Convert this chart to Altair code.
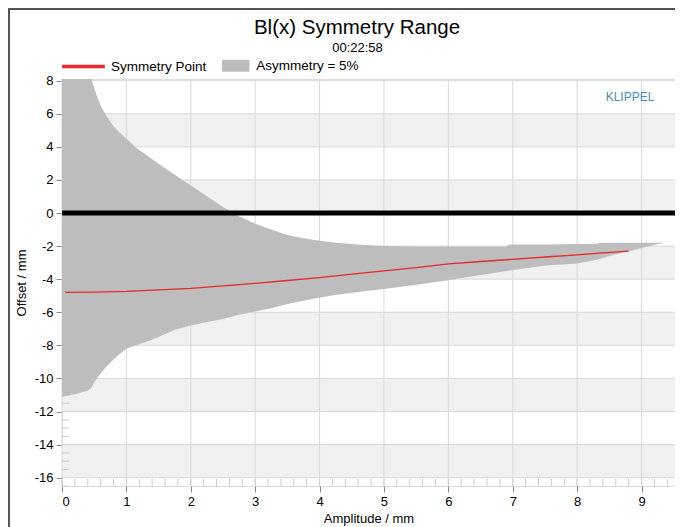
import altair as alt
import pandas as pd

# ---- data ----
amp = [0.0, 0.2, 0.4, 0.45, 0.5, 0.55, 0.6, 0.7, 0.8, 0.9, 1.0, 1.15, 1.3, 1.5, 1.75,
       2.0, 2.25, 2.5, 2.75, 3.0, 3.25, 3.5, 3.75, 4.0, 4.25, 4.5, 4.75, 5.0, 5.5,
       6.0, 6.5, 6.9, 6.95, 7.5, 8.0, 8.3, 8.35, 8.5, 8.75, 9.0, 9.33]
upper = [16.0, 12.0, 9.0, 8.2, 7.55, 6.98, 6.48, 5.8, 5.25, 4.83, 4.5, 3.94, 3.53, 2.98, 2.32,
         1.67, 1.01, 0.36, -0.19, -0.65, -1.0, -1.33, -1.52, -1.68, -1.8, -1.88, -1.95, -2.0, -2.02,
         -2.02, -2.02, -2.02, -1.9, -1.9, -1.88, -1.88, -1.8, -1.8, -1.8, -1.8, -1.8]
lower = [-11.1, -10.95, -10.75, -10.6, -10.25, -9.95, -9.7, -9.25, -8.85, -8.5, -8.2, -8.0, -7.8, -7.5, -7.05,
         -6.8, -6.58, -6.4, -6.15, -5.95, -5.75, -5.5, -5.3, -5.1, -4.95, -4.82, -4.7, -4.6, -4.33,
         -4.06, -3.75, -3.5, -3.47, -3.18, -3.05, -2.82, -2.78, -2.6, -2.36, -2.12, -1.82]

sym_amp = [0.05, 0.5, 1.0, 1.5, 2.0, 2.5, 3.0, 3.5, 4.0, 4.5, 5.0, 5.5, 6.0, 6.5, 7.0, 7.5, 8.0, 8.35, 8.8]
sym_off = [-4.8, -4.78, -4.74, -4.65, -4.55, -4.4, -4.25, -4.08, -3.9, -3.7, -3.5, -3.3, -3.07, -2.93,
           -2.8, -2.66, -2.53, -2.42, -2.3]

x_ticks = [0, 1, 2, 3, 4, 5, 6, 7, 8, 9]
y_ticks = [-16, -14, -12, -10, -8, -6, -4, -2, 0, 2, 4, 6, 8]
band_tops = [6, 2, -2, -6, -10, -14]
x_minor = [round(i * 0.2, 1) for i in range(0, 48)]
y_minor = [v / 2 for v in range(-33, 16) if v % 4 != 0]

title_text = "Bl(x) Symmetry Range"
subtitle_text = "00:22:58"
sym_label = "Symmetry Point"
asym_label = "Asymmetry = 5%"
brand_text = "KLIPPEL"

# ---- styling ----
W, H = 613, 407
FONT = "Liberation Sans"
GRID = "#d9d9d9"
AREA = "#bcbdbc"
RED = "#e8282a"

xs = alt.Scale(domain=[0, 9.52], nice=False, zero=False)
ys = alt.Scale(domain=[-16.5, 8.1], nice=False, zero=False)

x_axis = alt.Axis(values=x_ticks, grid=False, domain=False, tickSize=6, tickColor="#888888",
                  labelFontSize=13, labelFont=FONT, labelColor="black", labelPadding=3,
                  labelOverlap=False,
                  title="Amplitude / mm", titleFont=FONT, titleFontSize=13, titleFontWeight="normal",
                  titleColor="black", titlePadding=4)
y_axis = alt.Axis(values=y_ticks, grid=False, domain=False, tickSize=6, tickColor="#888888",
                  labelFontSize=13, labelFont=FONT, labelColor="black", labelPadding=3,
                  labelOverlap=False, labelExpr="'' + datum.value",
                  title="Offset / mm", titleFont=FONT, titleFontSize=13, titleFontWeight="normal",
                  titleColor="black", titlePadding=6)

area_df = pd.DataFrame({"amp": amp, "upper": upper, "lower": lower, "series": asym_label})
line_df = pd.DataFrame({"amp": sym_amp, "off": sym_off, "series": sym_label})
band_df = pd.DataFrame({"top": band_tops, "bottom": [t - 2 for t in band_tops]})
vgrid_df = pd.DataFrame({"x": x_ticks})
hgrid_df = pd.DataFrame({"y": y_ticks})
xminor_df = pd.DataFrame({"x": x_minor})
yminor_df = pd.DataFrame({"y": y_minor})
one_df = pd.DataFrame({"k": [0]})

frame = alt.Chart(one_df).mark_rect(fill="white", fillOpacity=0, stroke="#555555", strokeWidth=2).encode(
    x=alt.value(-53), x2=alt.value(720), y=alt.value(-70), y2=alt.value(520))

title_mark = alt.Chart(one_df).mark_text(text=title_text, font=FONT, fontSize=20.5, color="black",
                                         align="center", baseline="alphabetic").encode(
    x=alt.value(295), y=alt.value(-45))
subtitle_mark = alt.Chart(one_df).mark_text(text=subtitle_text, font=FONT, fontSize=13, color="black",
                                            align="center", baseline="alphabetic").encode(
    x=alt.value(295.5), y=alt.value(-27.3))

bands = alt.Chart(band_df).mark_rect(color="#f0f0f0").encode(
    x=alt.value(0), x2=alt.value(W),
    y=alt.Y("top:Q", scale=ys, axis=y_axis), y2="bottom:Q")

vgrid = alt.Chart(vgrid_df).mark_rule(color=GRID, strokeWidth=1).encode(
    x=alt.X("x:Q", scale=xs, axis=x_axis))
hgrid = alt.Chart(hgrid_df).mark_rule(color=GRID, strokeWidth=1).encode(
    y=alt.Y("y:Q", scale=ys, axis=y_axis))

xminor = alt.Chart(xminor_df).mark_rule(color="#cccccc", strokeWidth=1).encode(
    x=alt.X("x:Q", scale=xs, axis=x_axis), y=alt.value(H), y2=alt.value(H - 7))
yminor = alt.Chart(yminor_df).mark_rule(color="#cccccc", strokeWidth=1).encode(
    y=alt.Y("y:Q", scale=ys, axis=y_axis), x=alt.value(0), x2=alt.value(7))

area = alt.Chart(area_df).mark_area(clip=True, opacity=1).encode(
    x=alt.X("amp:Q", scale=xs, axis=x_axis),
    y=alt.Y("upper:Q", scale=ys, axis=y_axis),
    y2="lower:Q",
    fill=alt.Fill("series:N", scale=alt.Scale(domain=[asym_label], range=[AREA]),
                  legend=alt.Legend(orient="none", legendX=159.7, legendY=-27.2, title=None,
                                    symbolType="M-1,-0.43H1V0.43H-1Z", symbolSize=762,
                                    symbolStrokeWidth=0, symbolOpacity=1,
                                    labelFontSize=13.5, labelFont=FONT, labelColor="black",
                                    labelOffset=6.5, padding=0)),
)

zero = alt.Chart(one_df).mark_rule(color="black", strokeWidth=5).encode(
    y=alt.YDatum(0, scale=ys, axis=y_axis))

line = alt.Chart(line_df).mark_line(strokeWidth=1.3).encode(
    x=alt.X("amp:Q", scale=xs, axis=x_axis),
    y=alt.Y("off:Q", scale=ys, axis=y_axis),
    stroke=alt.Stroke("series:N", scale=alt.Scale(domain=[sym_label], range=[RED]),
                      legend=alt.Legend(orient="none", legendX=-2, legendY=-36, title=None,
                                        symbolType="stroke", symbolSize=1815, symbolStrokeWidth=3.5,
                                        labelFontSize=13.5, labelFont=FONT, labelColor="black",
                                        labelOffset=4, padding=0)),
)

klippel = alt.Chart(one_df).mark_text(text=brand_text, font=FONT, fontSize=12, color="#4a8db7",
                                      align="center", baseline="middle").encode(
    x=alt.value(568), y=alt.value(18))

chart = alt.layer(frame, title_mark, subtitle_mark, bands, vgrid, hgrid, xminor, yminor,
                  area, zero, line, klippel).properties(
    width=W, height=H,
    autosize=alt.AutoSizeParams(type="none"),
    padding={"left": 54, "top": 71, "right": 0, "bottom": 41},
).configure_view(stroke="#c8c8c8", strokeWidth=1).configure(background="white")

chart.save("out.html", embed_options={"renderer": "svg", "actions": False})
